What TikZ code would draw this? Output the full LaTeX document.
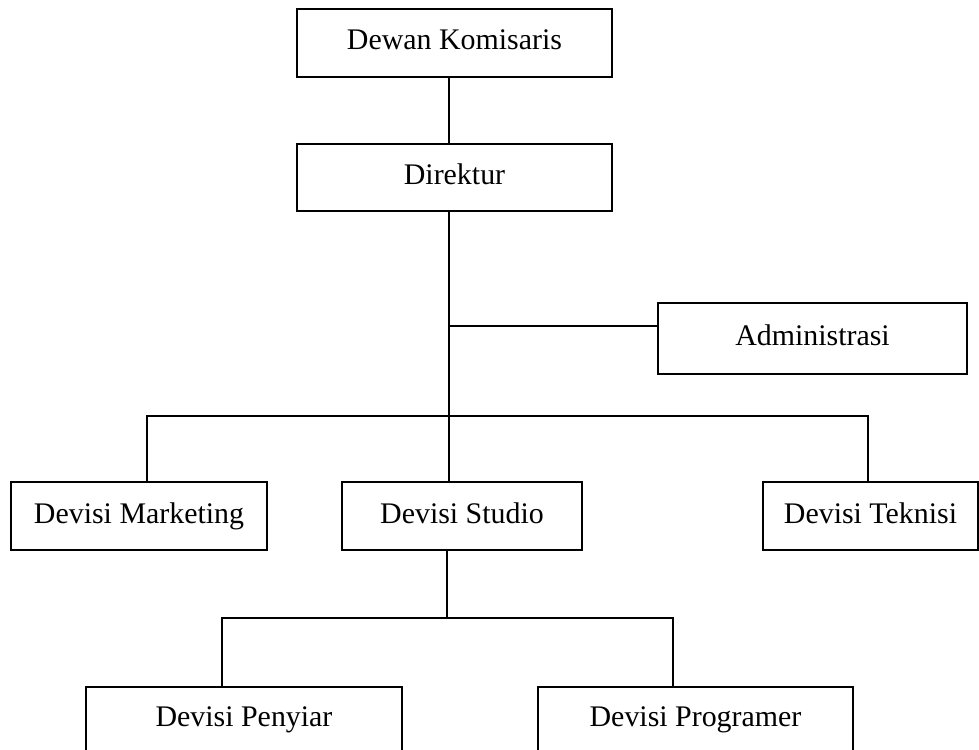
\documentclass[tikz,border=0pt]{standalone}
\usepackage{fontspec}
\setmainfont{Liberation Serif}
\usepackage{tikz}
\usetikzlibrary{calc}

\begin{document}
\begin{tikzpicture}[x=1pt, y=-1pt, line width=1.5pt,
		kotak/.style={draw, inner sep=0pt, text height=20.5pt, text depth=6.5pt, font=\fontsize{29.9}{36}\selectfont}]
			%%%%% START %%%%%
			
			\useasboundingbox (0, 0) rectangle (979, 749);
			
			\node[kotak, minimum width=315, minimum height=68] (dewan) at (454.5, 43) {Dewan Komisaris};
			\node[kotak, minimum width=315, minimum height=67] (direktur) at (454.5, 177.5) {Direktur};
			\node[kotak, minimum width=309, minimum height=71] (admin) at (812.5, 338.5) {Administrasi};
			
			\node[kotak, minimum width=256, minimum height=68] (marketing) at (139, 516) {Devisi Marketing};
			\node[kotak, minimum width=240, minimum height=68] (studio) at (462, 516) {Devisi Studio};
			\node[kotak, minimum width=215, minimum height=68] (teknisi) at (870.5, 516) {Devisi Teknisi};
			
			\node[kotak, minimum width=316, minimum height=64] (penyiar) at (244, 719) {Devisi Penyiar};
			\node[kotak, minimum width=315, minimum height=64] (programer) at (695.5, 719) {Devisi Programer};
			
			\coordinate (trunk) at (449, 0);
			\coordinate (adm) at (449, 326);
			\coordinate (bus) at (449, 416);
			\coordinate (busL) at (147, 416);
			\coordinate (busR) at (868, 416);
			\coordinate (bawah) at (447, 618);
			\coordinate (bawahL) at (222, 618);
			\coordinate (bawahR) at (673, 618);
			
			\draw (dewan.south -| trunk) -- (direktur.north -| trunk);
			\draw (direktur.south -| trunk) -- (bus);
			\draw (adm) -- (adm -| admin.west);
			
			\draw (busL |- marketing.north) -- (busL) -- (busR) -- (busR |- teknisi.north);
			\draw (bus) -- (bus |- studio.north);
			
			\draw (studio.south -| bawah) -- (bawah);
			\draw (bawahL |- penyiar.north) -- (bawahL) -- (bawahR) -- (bawahR |- programer.north);
			
			%%%%% END %%%%%
		\end{tikzpicture}
\end{document}
